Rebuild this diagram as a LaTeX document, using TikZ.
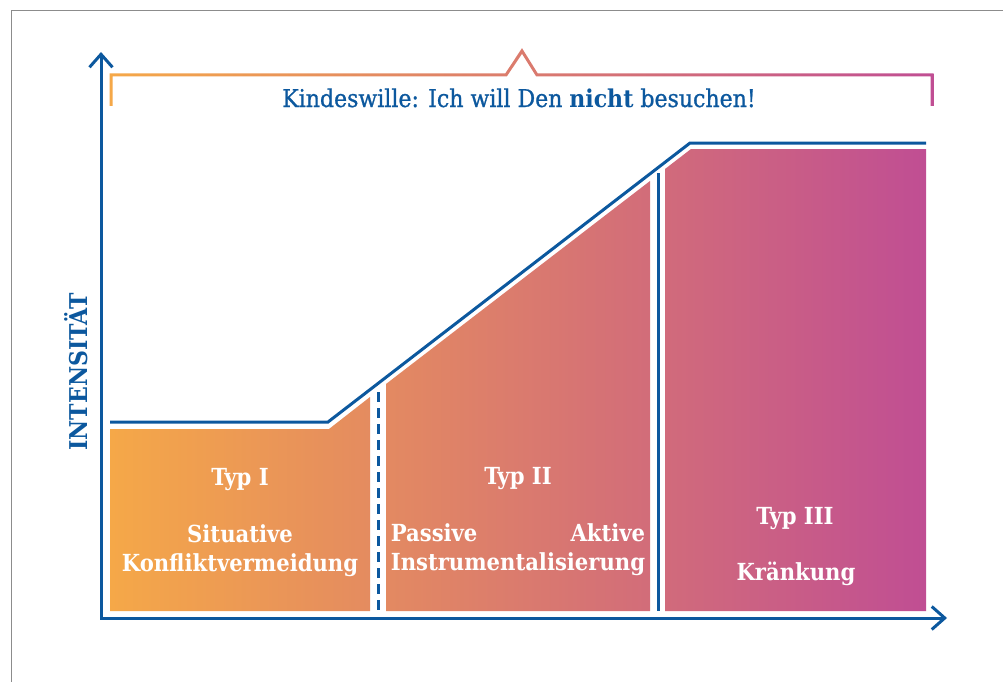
\documentclass[tikz,border=0pt]{standalone}
\usepackage{fontspec}
\setmainfont{DejaVu Serif Condensed}
\newfontface\titlemedium{DejaVu Serif Condensed}[FakeBold=0.9]
\usetikzlibrary{arrows.meta,positioning}
\definecolor{axisblue}{RGB}{12,88,158}
\definecolor{framegray}{RGB}{140,140,140}
\definecolor{typorange}{RGB}{245,168,72}
\definecolor{typsalmon}{RGB}{238,148,122}
\definecolor{typmagenta}{RGB}{192,78,147}
\tikzset{>={Straight Barb[length=13pt,width=23pt]},
  axis/.style={draw=axisblue,line width=3pt},
  divider/.style={draw=axisblue,line width=3pt},
  typshade/.style={left color=typorange,middle color=typsalmon,right color=typmagenta},
  typlabel/.style={text=white,font=\bfseries\fontsize{23.5}{28}\selectfont,inner sep=0pt,anchor=base},
  title/.style={text=axisblue,font=\fontsize{24.5}{29}\selectfont,inner sep=0pt,anchor=base}}

\begin{document}
\begin{tikzpicture}[x=1pt,y=-1pt]
  \useasboundingbox (0,0) rectangle (1003,682);
  % frame
  \draw [framegray,line width=1pt] (11,682) -- (11,11) -- (1003,11);
  % coloured areas of the three types
  \shade [typshade]
    (110,611) -- (110,429) -- (329,429) -- (370,397) -- (370,611) -- cycle
    (386,611) -- (386,384) -- (650,181) -- (650,611) -- cycle
    (665,611) -- (665,169) -- (691,149) -- (926,149) -- (926,611) -- cycle;
  % bracket over the top
  \shade [typshade]
    (109.5,106) -- (109.5,73.5) -- (505.2,73.5) -- (522,48.2) -- (537.8,73.5)
    -- (933.5,73.5) -- (933.5,106) -- (930.5,106) -- (930.5,76.5) -- (536.2,76.5)
    -- (522,53.8) -- (506.8,76.5) -- (112.5,76.5) -- (112.5,106) -- cycle;
  % axes
  \coordinate (O) at (101,618);
  \coordinate (ytip) at (101,52);
  \coordinate (xtip) at (947,618);
  \draw [axis,<->] (ytip) -- (O) -- (xtip);
  % intensity line
  \coordinate (c1) at (110,422);
  \coordinate (c2) at (328,422);
  \coordinate (c3) at (690,143);
  \coordinate (c4) at (926,143);
  \draw [axis] (c1) -- (c2) -- (c3) -- (c4);
  % dividers
  \coordinate (d1top) at (378,392);
  \coordinate (d1bot) at (378,611);
  \coordinate (d2top) at (658,173);
  \coordinate (d2bot) at (658,611);
  \draw [divider,dash pattern=on 10pt off 6pt] (d1top) -- (d1bot);
  \draw [divider] (d2top) -- (d2bot);
  % labels
  \node [title] (wille) at (519,107) {{\titlemedium Kindeswille: Ich will Den} \textbf{nicht} {\titlemedium besuchen!}};
  \node [text=axisblue,font=\bfseries\fontsize{24.5}{29}\selectfont,inner sep=0pt,rotate=90] (intens) at (76,372) {INTENSITÄT};
  \node [typlabel] (typI) at (240,485) {Typ I};
  \node [typlabel] (konflikt) at (240,571) {Konfliktvermeidung};
  \node [typlabel] (situativ) at (240,542) {Situative};
  \node [typlabel] (typII) at (518,484) {Typ II};
  \node [typlabel] (instr) at (518,570) {Instrumentalisierung};
  \node [typlabel,anchor=base west] (passiv) at ([yshift=29pt]instr.base west) {Passive};
  \node [typlabel,anchor=base east] (aktiv) at ([yshift=29pt]instr.base east) {Aktive};
  \node [typlabel] (typIII) at (795,524) {Typ III};
  \node [typlabel] (kraenk) at (796,580) {Kränkung};
\end{tikzpicture}
\end{document}
